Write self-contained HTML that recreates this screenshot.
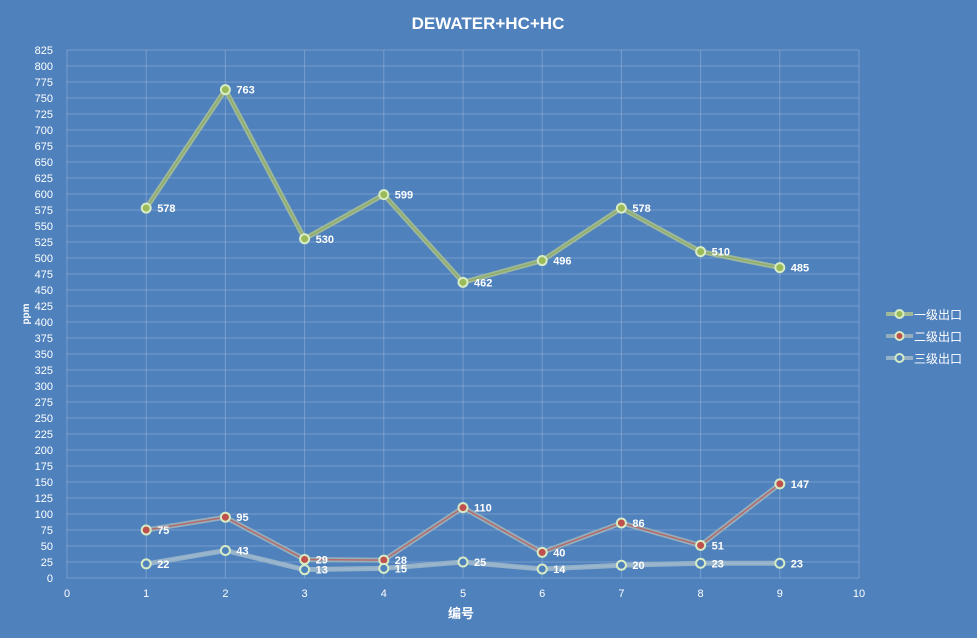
<!DOCTYPE html>
<html><head><meta charset="utf-8"><style>
html,body{margin:0;padding:0;background:#4f81bd;}
svg{display:block;font-family:"Liberation Sans","Noto Sans CJK SC",sans-serif;}
</style></head><body>
<svg id="chart" width="977" height="638">
<rect width="977" height="638" fill="#4f81bd"/>
<text x="488" y="29" text-anchor="middle" fill="#fff" font-size="17" font-weight="bold">DEWATER+HC+HC</text>
<g id="grid"></g><g id="axes"></g><g id="series"></g>
<text x="461" y="618" text-anchor="middle" fill="#fff" font-size="13" font-weight="bold">编号</text>
<text transform="translate(29,314) rotate(-90)" text-anchor="middle" fill="#fff" font-size="10" font-weight="bold">ppm</text>
<g id="legend"></g>
</svg>
<script>
const categories=[1,2,3,4,5,6,7,8,9];
const seriesNames=["一级出口","二级出口","三级出口"];
const s1=[578,763,530,599,462,496,578,510,485];
const s2=[75,95,29,28,110,40,86,51,147];
const s3=[22,43,13,15,25,14,20,23,23];
const xTicks=[0,1,2,3,4,5,6,7,8,9,10];
const yMax=825,yStep=25;
const NS="http://www.w3.org/2000/svg";
const X0=67,X1=859,Y0=578,Y1=50;
const xs=v=>X0+(v-0)*(X1-X0)/10;
const ys=v=>Y0-v*(Y0-Y1)/yMax;
function mk(tag,attrs,parent){const e=document.createElementNS(NS,tag);for(const k in attrs)e.setAttribute(k,attrs[k]);parent.appendChild(e);return e;}
const grid=document.getElementById('grid'),axes=document.getElementById('axes');
for(let v=0;v<=yMax;v+=yStep){
 const l=mk('line',{x1:X0,x2:X1,y1:ys(v),y2:ys(v),stroke:'rgba(255,255,255,0.22)','stroke-width':1},grid);
 
 
 const t=mk('text',{x:53,y:ys(v)+4,'text-anchor':'end',fill:'#fff','font-size':11},axes);
 t.textContent=v;
 
 
}
xTicks.forEach(v=>{
 const l=mk('line',{x1:xs(v),x2:xs(v),y1:Y1,y2:Y0,stroke:'rgba(255,255,255,0.22)','stroke-width':1},grid);
 
 
 const t=mk('text',{x:xs(v),y:597,'text-anchor':'middle',fill:'#fff','font-size':11},axes);
 t.textContent=v;
 
 
});
const styles=[{outer:'#9fb89a',inner:'#8fae6a',dot:'#9bbb59'},{outer:'#95aebb',inner:'#b56a6a',dot:'#c0504d'},{outer:'#94b1c8',inner:'#9ab7cf',dot:'#4f81bd'}];
const sg=document.getElementById('series');
[s1,s2,s3].forEach((data,i)=>{
 const st=styles[i];
 const pts=data.map((v,j)=>xs(categories[j])+','+ys(v)).join(' ');
 const g=mk('g',{},sg);
 
 
 mk('polyline',{points:pts,fill:'none',stroke:st.outer,'stroke-width':5,'stroke-linejoin':'round'},g);
 mk('polyline',{points:pts,fill:'none',stroke:st.inner,'stroke-width':1.5,'stroke-linejoin':'round'},g);
 data.forEach((v,j)=>{
  const c=mk('circle',{cx:xs(categories[j]),cy:ys(v),r:4.5,fill:st.dot,stroke:'#d7ecc4','stroke-width':2},g);
  
  
  const t=mk('text',{x:xs(categories[j])+11,y:ys(v)+4,fill:'#fff','font-size':11,'font-weight':'bold'},g);
  t.textContent=v;
  
  
 });
});
const lg=document.getElementById('legend');
seriesNames.forEach((n,i)=>{
 const y=314+i*22,st=styles[i];
 const g=mk('g',{},lg);
 
 
 mk('line',{x1:886,x2:913,y1:y,y2:y,stroke:st.outer,'stroke-width':4},g);
 mk('circle',{cx:899.5,cy:y,r:4,fill:st.dot,stroke:'#d7ecc4','stroke-width':2},g);
 const t=mk('text',{x:914,y:y+5,fill:'#fff','font-size':12},g);
 t.textContent=n;
});
</script>
</body></html>
